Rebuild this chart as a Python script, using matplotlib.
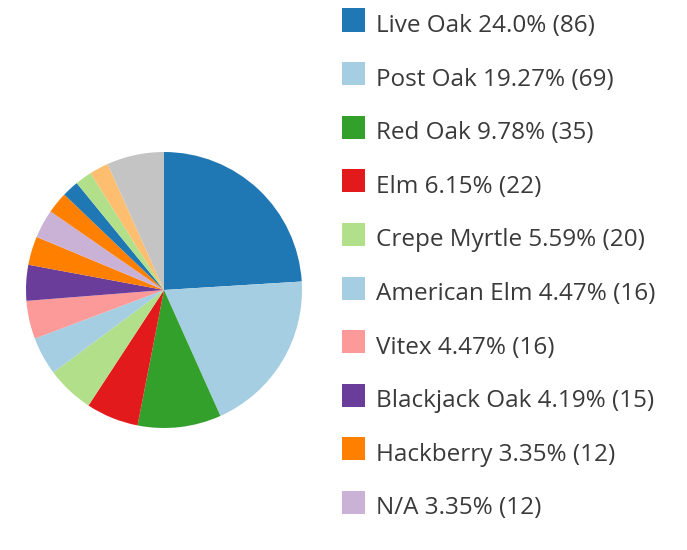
import matplotlib.pyplot as plt
from matplotlib.patches import Rectangle

plt.rcParams['font.family'] = ['Open Sans', 'DejaVu Sans']

# slices, clockwise from 12 o'clock
names = ['Live Oak', 'Post Oak', 'Red Oak', 'Elm', 'Crepe Myrtle', 'American Elm',
         'Vitex', 'Blackjack Oak', 'Hackberry', 'N/A',
         'other 1', 'other 2', 'other 3', 'other 4', 'other 5']
counts = [86, 69, 35, 22, 20, 16, 16, 15, 12, 12, 9, 7, 7, 8, 24]
pcts = ['24.0%', '19.27%', '9.78%', '6.15%', '5.59%', '4.47%', '4.47%', '4.19%', '3.35%', '3.35%']
colors = ['#1f78b4', '#a6cee3', '#33a02c', '#e31a1c', '#b2df8a', '#a6cee3',
          '#fb9a99', '#6a3d9a', '#ff7f00', '#cab2d6',
          '#ff7f00', '#1f78b4', '#b2df8a', '#fdbf6f', '#c4c4c4']

W, H = 687, 550
fig = plt.figure(figsize=(W / 100, H / 100), dpi=100)

# pie centre ~ (164, 290), radius ~ 138 px
cx, cy, r = 164, 290, 138
ax = fig.add_axes([(cx - r) / W, 1 - (cy + r) / H, 2 * r / W, 2 * r / H])
ax.pie(counts, colors=colors, startangle=90, counterclock=False,
       wedgeprops=dict(linewidth=0))
ax.set_xlim(-1, 1)
ax.set_ylim(-1, 1)
ax.set_aspect('equal')
ax.axis('off')

# legend rows
for i in range(len(pcts)):
    yc = 25 + i * 53.6
    sq = 23
    fig.patches.append(Rectangle(((342) / W, 1 - (yc - 5 + sq / 2) / H), sq / W, sq / H,
                                 transform=fig.transFigure, facecolor=colors[i],
                                 edgecolor='none'))
    fig.text(376 / W, 1 - (yc + 1) / H, f'{names[i]} {pcts[i]} ({counts[i]})',
             fontsize=17.5, color='#3a3a3a', va='center', ha='left')

fig.savefig('out.png', dpi=100)
